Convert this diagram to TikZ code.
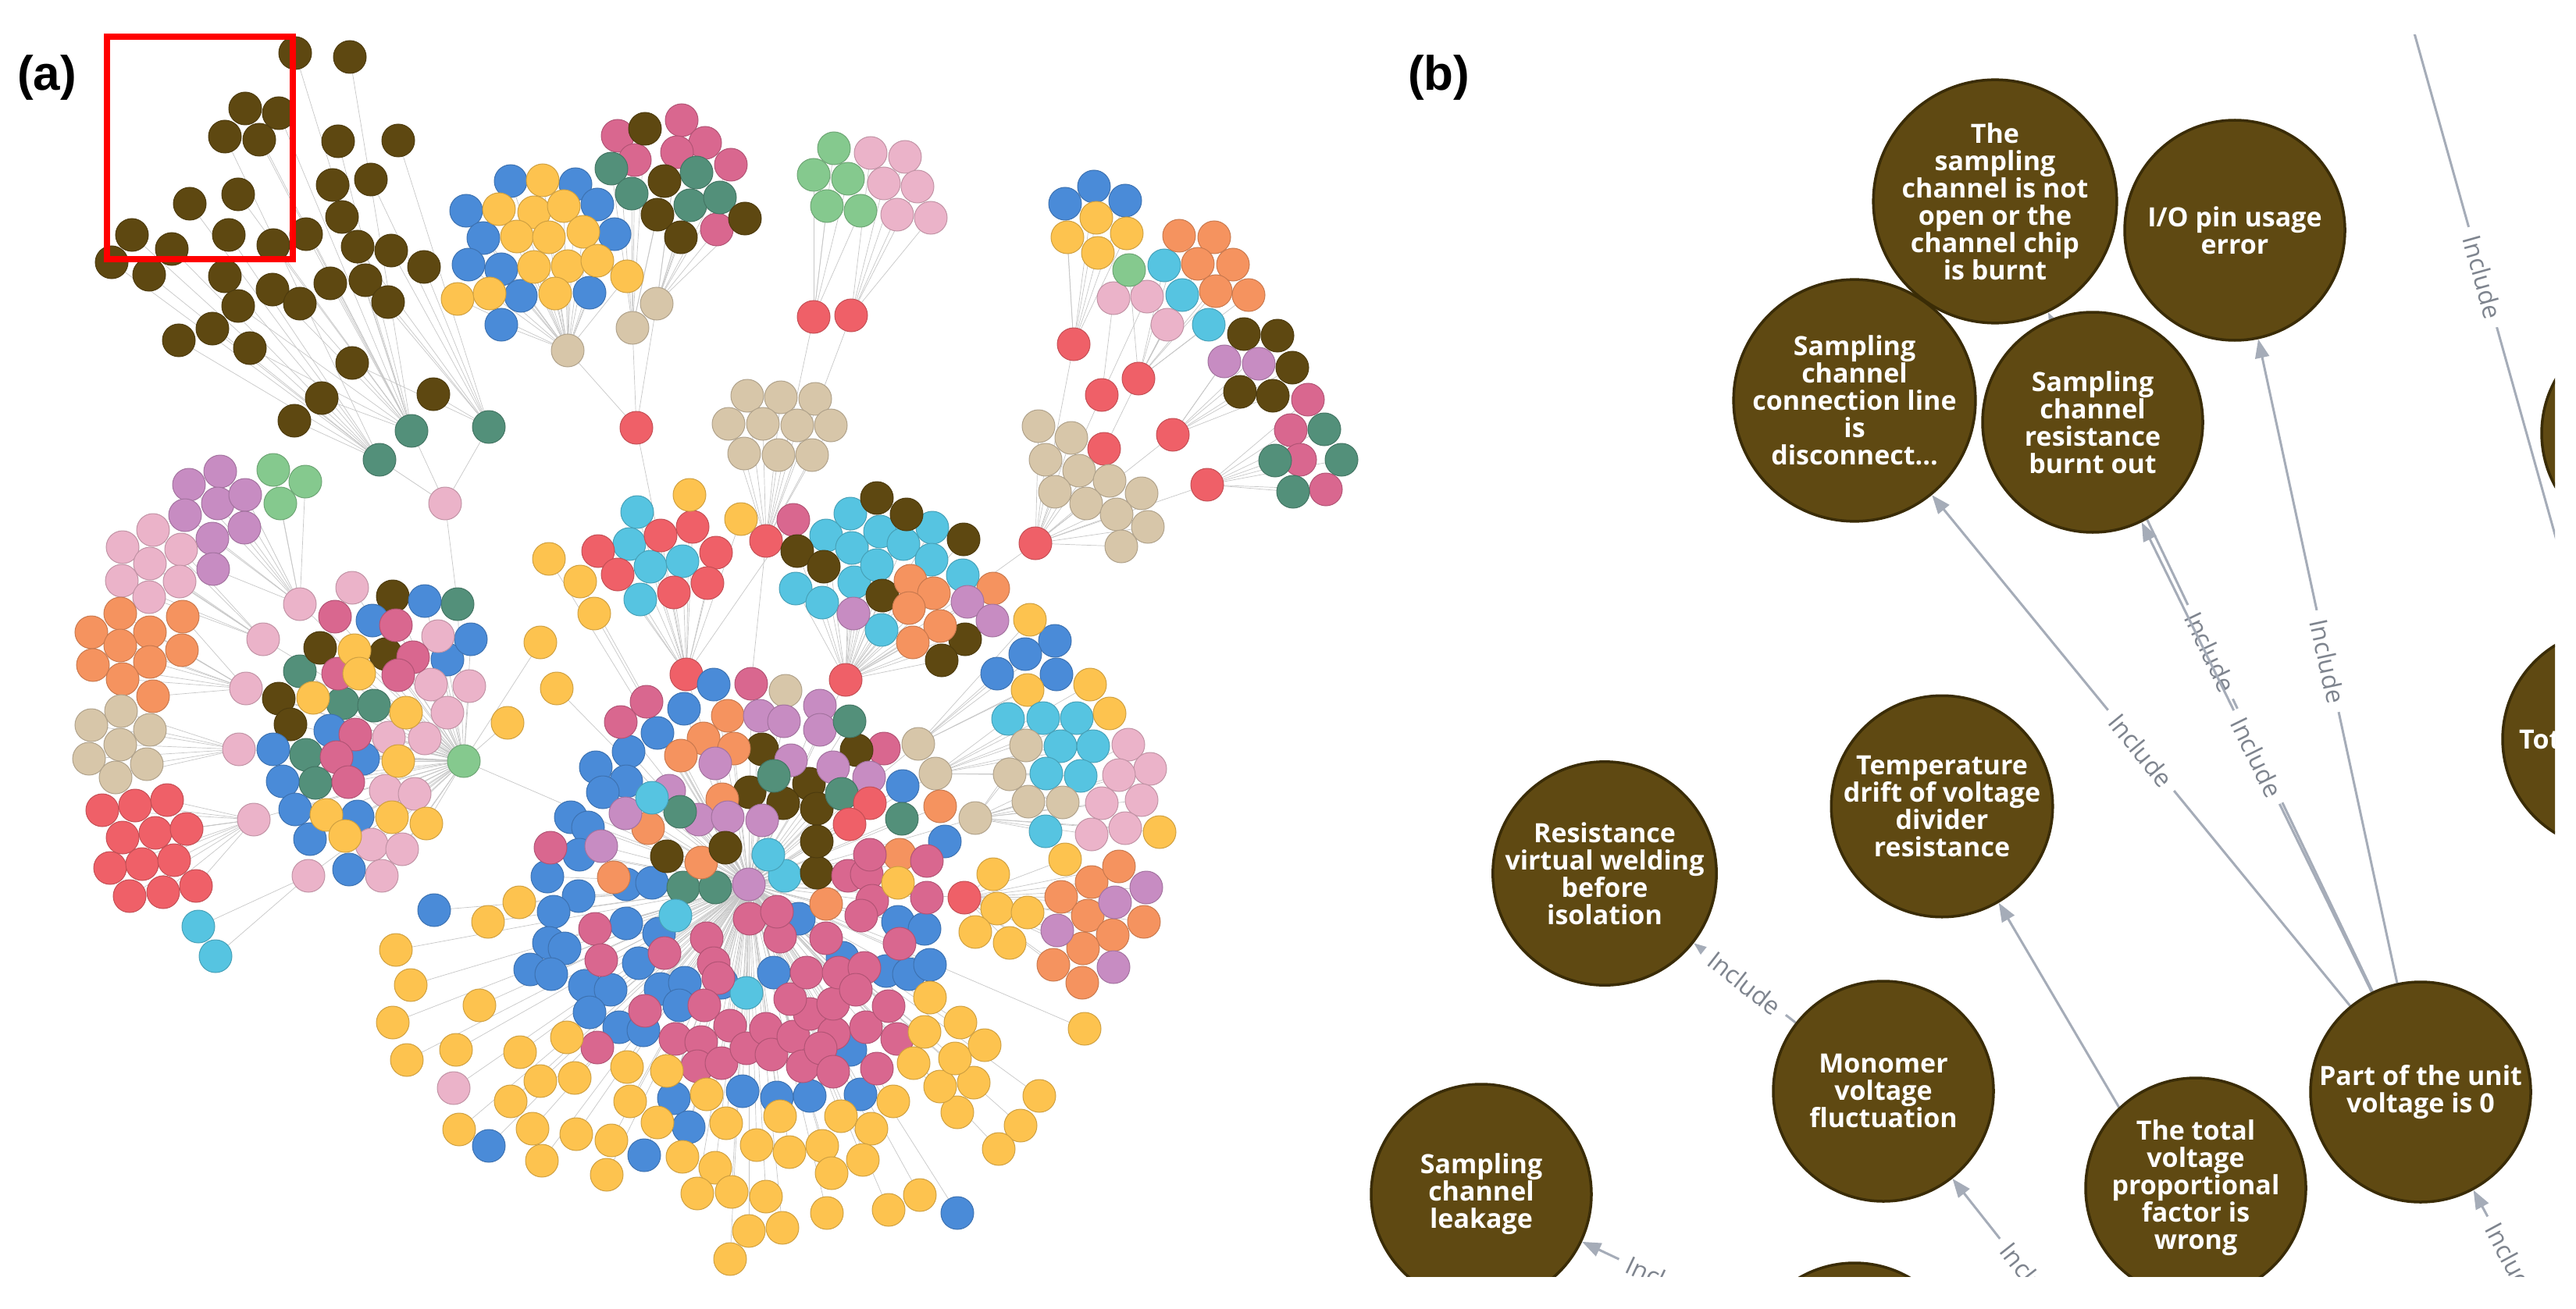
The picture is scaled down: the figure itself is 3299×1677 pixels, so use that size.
\documentclass[tikz,border=0pt]{standalone}
\usepackage{fontspec}
\setmainfont{Liberation Sans}
\newfontfamily\osfont{Open Sans}
\usetikzlibrary{arrows.meta}
\pgfdeclarelayer{bg}
\pgfsetlayers{bg,main}
\definecolor{cB}{HTML}{5E4811}
\definecolor{cU}{HTML}{4A8BD8}
\definecolor{cY}{HTML}{FDC34F}
\definecolor{cM}{HTML}{D9678F}
\definecolor{cP}{HTML}{EBB3C9}
\definecolor{cT}{HTML}{53907A}
\definecolor{cG}{HTML}{85C98E}
\definecolor{cR}{HTML}{EF6068}
\definecolor{cN}{HTML}{D7C6A9}
\definecolor{cC}{HTML}{56C4E1}
\definecolor{cO}{HTML}{F5935F}
\definecolor{cV}{HTML}{C78CC2}
\definecolor{cBb}{HTML}{5F4912}
\definecolor{cBd}{HTML}{3A2C06}
\definecolor{cE}{HTML}{A5ACB8}
\definecolor{cL}{HTML}{7E848E}
\tikzset{
 nd/.style={circle,minimum size=42pt,inner sep=0pt,fill=#1,draw=#1!82!black,line width=1pt},
 ghost/.style={circle,minimum size=42pt,inner sep=0pt},
 aedge/.style={draw=black!22,line width=0.7pt},
 bn/.style={circle,minimum size=282pt,inner sep=0pt,fill=cBb,draw=cBd,line width=3.5pt,text=white,align=center,font=\osfont\bfseries\fontsize{34}{35}\selectfont},
 bedge/.style={draw=cE,line width=3pt,-{Triangle[length=24pt,width=18pt]}},
 bline/.style={draw=cE,line width=3pt},
 blab/.style={sloped,fill=white,inner xsep=12pt,inner ysep=2pt,text=cL,font=\osfont\fontsize{32}{32}\selectfont},
 plab/.style={anchor=base west,inner sep=0pt,font=\bfseries\fontsize{62}{62}\selectfont},
}
\newcommand\mkedges[2]{\foreach \x/\y/\cc/\hh [count=\i] in #2 {\node[ghost] (#1\i) at (\x,\y) {};\draw[aedge] (\hh) -- (#1\i);}}
\newcommand\mknodes[2]{\foreach \x/\y/\cc/\hh [count=\i] in #2 {\node[nd=\cc] (#1\i) at (\x,\y) {};}}
% hubs: x/y/colour/name
\def\Lhub{527/552/cT/hT1,626/547/cT/hT2,486/589/cT/hT3,570/645/cP/hSF,586/774/cT/hRT,594/975/cG/hTR,727/449/cN/hN1,841/389/cN/hN2,810/420/cN/hN3,815/548/cR/hR1,1042/406/cR/hRg,1090/404/cR/hRp,981/693/cR/hRe,879/864/cR/hRa,1083/871/cR/hRc,1375/441/cR/hRcb,1411/506/cR/hRml,1458/485/cR/hRla,1502/557/cR/hRtb,1414/575/cR/hRco,1546/621/cR/hRsb,1326/696/cR/hRam,1176/953/cN/hNv,1198/991/cN/hNl,1249/1048/cN/hNc,384/774/cP/hPc,337/819/cP/hPo,315/882/cP/hPi,306/960/cP/hPf,325/1050/cP/hPa,395/1122/cP/hPe,959/1133/cV/hV,1235/1150/cR/hRg2,962/876/cM/hMx,1006/885/cN/hNf}
\def\Ltla{378/68/cB/hT1,448/73/cB/hT1,314/139/cB/hT1,357/145/cB/hT1,288/175/cB/hT3,332/179/cB/hT1,433/181/cB/hT1,510/180/cB/hT2,305/249/cB/hT1,243/261/cB/hT3,426/237/cB/hT1,475/230/cB/hT2,438/278/cB/hT1,169/301/cB/hT3,220/319/cB/hT3,293/301/cB/hT3,350/314/cB/hT1,392/300/cB/hT1,458/316/cB/hT2,501/321/cB/hT2,143/336/cB/hT3,191/352/cB/hT3,288/354/cB/hT3,349/371/cB/hT1,423/363/cB/hT1,468/359/cB/hT2,543/342/cB/hT2,305/392/cB/hT1,384/389/cB/hT1,497/387/cB/hT2,272/421/cB/hT3,229/436/cB/hT3,320/446/cB/hT1,451/465/cB/hT2,412/510/cB/hT1,555/505/cB/hT2,377/539/cB/hT3}
\def\Ltmb{654/232/cU/hN1,737/236/cU/hN1,597/270/cU/hN1,765/262/cU/hN1,619/305/cU/hN1,787/300/cU/hN1,600/339/cU/hN1,642/345/cU/hN1,667/379/cU/hN1,755/375/cU/hN1,642/416/cU/hN1,695/231/cY/hN1,639/268/cY/hN1,684/272/cY/hN1,722/264/cY/hN1,662/303/cY/hN1,703/304/cY/hN1,747/297/cY/hN1,684/342/cY/hN1,727/341/cY/hN1,765/334/cY/hN1,586/383/cY/hN1,627/376/cY/hN1,711/376/cY/hN1,803/354/cY/hN1}
\def\Ltcc{791/174/cM/hN3,813/205/cM/hN3,873/154/cM/hN2,903/183/cM/hN2,867/195/cM/hN2,936/211/cM/hN2,918/294/cM/hN2,783/216/cT/hN3,809/248/cT/hN3,892/221/cT/hN2,884/263/cT/hN2,922/253/cT/hN2,826/165/cB/hN3,851/232/cB/hN3,842/275/cB/hN3,872/304/cB/hN2,954/280/cB/hN2}
\def\Llgp{1068/190/cG/hRg,1042/224/cG/hRg,1086/229/cG/hRg,1059/264/cG/hRg,1102/270/cG/hRg,1115/196/cP/hRp,1159/201/cP/hRp,1132/235/cP/hRp,1175/239/cP/hRp,1149/275/cP/hRp,1192/279/cP/hRp}
\def\Ltnr{957/507/cN/hRe,1000/509/cN/hRe,1044/511/cN/hRe,933/543/cN/hRe,977/543/cN/hRe,1021/545/cN/hRe,1064/545/cN/hRe,953/581/cN/hRe,997/583/cN/hRe,1040/583/cN/hRe}
\def\Lano{816/656/cC/hRa,806/697/cC/hRa,833/726/cC/hRa,874/719/cC/hRa,820/768/cC/hRa,766/706/cR/hRa,846/686/cR/hRa,887/675/cR/hRa,917/708/cR/hRa,791/736/cR/hRa,863/759/cR/hRa,906/747/cR/hRa,883/634/cY/hRa,949/665/cY/hRa,1016/666/cM/hRa}
\def\Lcat{1089/658/cC/hRc,1058/686/cC/hRc,1091/702/cC/hRc,1019/754/cC/hRc,1094/746/cC/hRc,1053/772/cC/hRc,1127/681/cC/hRc,1157/697/cC/hRc,1194/676/cC/hRc,1123/724/cC/hRc,1193/717/cC/hRc,1233/737/cC/hRc,1129/807/cC/hRc,1021/706/cB/hRc,1055/726/cB/hRc,1123/638/cB/hRc,1161/659/cB/hRc,1234/691/cB/hRc,1130/763/cB/hRc,1236/819/cB/hRc,1206/846/cB/hRc,1166/744/cO/hRc,1196/760/cO/hRc,1164/779/cO/hRc,1204/802/cO/hRc,1169/823/cO/hRc,1272/754/cO/hRc,1093/786/cV/hRc,1239/771/cV/hRc,1271/795/cV/hRc}
\def\Lvol{1351/821/cU/hNv,1313/838/cU/hNv,1353/864/cU/hNv,1277/863/cU/hNv,1319/794/cY/hNv,1316/884/cY/hNv}
\def\Llif{1291/921/cC/hNl,1336/920/cC/hNl,1379/920/cC/hNl,1358/956/cC/hNl,1400/956/cC/hNl,1340/991/cC/hNl,1384/994/cC/hNl,1396/877/cY/hNl,1421/914/cY/hNl}
\def\Lcap{1314/955/cN/hNc,1293/992/cN/hNc,1317/1027/cN/hNc,1361/1028/cN/hNc,1445/954/cP/hNc,1473/985/cP/hNc,1433/993/cP/hNc,1462/1025/cP/hNc,1411/1029/cP/hNc,1441/1061/cP/hNc,1398/1069/cP/hNc,1339/1065/cC/hNc,1485/1066/cY/hNc}
\def\Lrca{1401/239/cU/hRcb,1364/261/cU/hRcb,1441/257/cU/hRcb,1404/279/cY/hRcb,1367/304/cY/hRcb,1443/299/cY/hRcb,1406/324/cY/hRcb,1426/382/cP/hRml,1469/380/cP/hRml}
\def\Lrla{1446/346/cG/hRla,1491/340/cC/hRla,1514/378/cC/hRla,1548/416/cC/hRla,1495/416/cP/hRla,1510/302/cO/hRla,1555/304/cO/hRla,1534/338/cO/hRla,1579/339/cO/hRla,1557/373/cO/hRla,1599/378/cO/hRla}
\def\Lrtb{1593/428/cB/hRtb,1636/430/cB/hRtb,1655/471/cB/hRtb,1588/502/cB/hRtb,1630/507/cB/hRtb,1568/463/cV/hRtb,1612/466/cV/hRtb,1675/512/cM/hRsb,1653/551/cM/hRsb,1665/589/cM/hRsb,1698/627/cM/hRsb,1696/550/cT/hRsb,1633/590/cT/hRsb,1718/589/cT/hRsb,1656/630/cT/hRsb}
\def\Lram{1330/546/cN/hRam,1372/561/cN/hRam,1339/589/cN/hRam,1382/603/cN/hRam,1351/630/cN/hRam,1421/616/cN/hRam,1462/632/cN/hRam,1391/645/cN/hRam,1430/659/cN/hRam,1470/675/cN/hRam,1436/700/cN/hRam}
\def\Llft{282/604/cV/hPc,242/621/cV/hPc,279/645/cV/hPc,314/634/cV/hPc,237/660/cV/hPc,313/676/cV/hPc,272/690/cV/hPc,273/729/cV/hPc,350/602/cG/hPc,391/617/cG/hPc,359/645/cG/hPc,196/679/cP/hPo,157/701/cP/hPo,232/704/cP/hPo,192/722/cP/hPo,156/744/cP/hPo,230/745/cP/hPo,191/765/cP/hPo,154/786/cO/hPi,117/810/cO/hPi,192/810/cO/hPi,154/827/cO/hPi,234/790/cO/hPi,233/833/cO/hPi,192/848/cO/hPi,119/852/cO/hPi,157/870/cO/hPi,196/892/cO/hPi,155/911/cN/hPf,117/929/cN/hPf,192/935/cN/hPf,154/954/cN/hPf,114/972/cN/hPf,188/979/cN/hPf,148/996/cN/hPf,131/1038/cR/hPa,173/1032/cR/hPa,214/1025/cR/hPa,157/1073/cR/hPa,199/1067/cR/hPa,239/1062/cR/hPa,141/1112/cR/hPa,182/1107/cR/hPa,223/1102/cR/hPa,166/1148/cR/hPa,209/1143/cR/hPa,251/1135/cR/hPa,254/1187/cC/hPe,276/1225/cC/hPe}
\def\Lclf{384/860/cT/hTR,439/901/cT/hTR,479/904/cT/hTR,392/967/cT/hTR,404/1003/cT/hTR,503/764/cB/hTR,410/830/cB/hTR,494/838/cB/hTR,357/895/cB/hTR,372/928/cB/hTR,477/795/cU/hTR,544/770/cU/hTR,573/845/cU/hTR,423/936/cU/hTR,350/960/cU/hTR,465/972/cU/hTR,362/1001/cU/hTR,378/1037/cU/hTR,458/1046/cU/hTR,397/1075/cU/hTR,447/1114/cU/hTR,603/819/cU/hTR,451/753/cP/hTR,561/815/cP/hTR,552/877/cP/hTR,573/913/cP/hTR,498/945/cP/hTR,544/946/cP/hTR,476/1082/cP/hTR,515/1088/cP/hTR,494/1013/cP/hTR,531/1017/cP/hTR,489/1122/cP/hTR,601/879/cP/hTR,429/790/cM/hTR,507/801/cM/hTR,529/842/cM/hTR,433/863/cM/hTR,510/865/cM/hTR,454/833/cY/hTR,460/863/cY/hTR,401/894/cY/hTR,520/913/cY/hTR,510/975/cY/hTR,418/1044/cY/hTR,502/1047/cY/hTR,546/1055/cY/hTR,442/1071/cY/hTR,455/941/cM/hTR,431/970/cM/hTR,446/1002/cM/hTR,692/823/cY/hTR,650/926/cY/hTR}
\def\Lcbg{703/716/cY/hV,743/745/cY/hV,761/786/cY/hV,713/882/cY/hV,914/877/cU/hV,876/908/cU/hV,842/939/cU/hV,805/963/cU/hV,763/983/cU/hV,802/1001/cU/hV,772/1015/cU/hV,731/1047/cU/hV,753/1060/cU/hV,1156/1007/cU/hV,828/899/cM/hV,795/925/cM/hV,1132/959/cM/hV,976/960/cB/hV,1097/961/cB/hV,960/1015/cB/hV,1036/1004/cB/hV,1003/1029/cB/hV,1046/1036/cB/hV,932/917/cO/hV,901/946/cO/hV,940/959/cO/hV,872/968/cO/hV,925/1024/cO/hV,830/1061/cO/hV,1204/1033/cO/hV,973/917/cV/hV,1004/924/cV/hV,1050/904/cV/hV,1050/935/cV/hV,1013/974/cV/hV,916/978/cV/hV,1067/983/cV/hV,857/1013/cV/hV,895/1050/cV/hV,932/1047/cV/hV,976/1051/cV/hV,801/1042/cV/hV,1113/996/cV/hV,1088/924/cT/hV,1078/1017/cT/hV,991/994/cT/hV,871/1040/cT/hV,1155/1049/cT/hV,835/1022/cC/hV,1114/1029/cR/hV,1088/1056/cR/hV}
\def\Lbot{556/1166/cU/hV,701/1123/cU/hV,741/1148/cU/hV,709/1168/cU/hV,703/1208/cU/hV,723/1215/cU/hV,679/1242/cU/hV,706/1248/cU/hV,749/1263/cU/hV,782/1268/cU/hV,755/1297/cU/hV,793/1316/cU/hV,824/1320/cU/hV,802/1183/cU/hV,802/1133/cU/hV,835/1131/cU/hV,818/1234/cU/hV,846/1267/cU/hV,877/1259/cU/hV,870/1288/cU/hV,844/1196/cU/hV,991/1246/cU/hV,1023/1177/cU/hV,1079/1227/cU/hV,1089/1345/cU/hV,1135/1244/cU/hV,1164/1248/cU/hV,1191/1236/cU/hV,1150/1181/cU/hV,1184/1190/cU/hV,863/1407/cU/hV,951/1398/cU/hV,995/1406/cU/hV,1037/1404/cU/hV,1102/1402/cU/hV,882/1444/cU/hV,825/1480/cU/hV,626/1468/cU/hV,1226/1554/cU/hV,742/1095/cU/hV,924/1259/cU/hV,1210/1078/cU/hV,875/1137/cT/hV,916/1137/cT/hV,770/1084/cV/hV,786/1124/cO/hV,898/1105/cO/hV,1058/1158/cO/hV,1152/1095/cO/hV,865/1173/cC/hV,1005/1122/cC/hV,984/1095/cC/hV,956/1272/cC/hV,854/1097/cB/hV,929/1086/cB/hV,1046/1118/cB/hV,1046/1078/cB/hV,581/1394/cP/hV}
\def\Lmag{705/1086/cM/hV,762/1190/cM/hV,770/1230/cM/hV,851/1221/cM/hV,905/1202/cM/hV,914/1234/cM/hV,920/1253/cM/hV,902/1288/cM/hV,826/1295/cM/hV,865/1331/cM/hV,898/1335/cM/hV,935/1314/cM/hV,893/1366/cM/hV,924/1362/cM/hV,956/1343/cM/hV,981/1318/cM/hV,988/1351/cM/hV,1016/1328/cM/hV,1037/1299/cM/hV,1012/1280/cM/hV,1028/1366/cM/hV,1068/1324/cM/hV,1051/1343/cM/hV,1067/1373/cM/hV,1067/1286/cM/hV,1033/1246/cM/hV,1074/1246/cM/hV,1107/1240/cM/hV,1096/1268/cM/hV,1109/1316/cM/hV,1138/1289/cM/hV,1149/1331/cM/hV,1123/1369/cM/hV,765/1342/cM/hV,999/1200/cM/hV,1058/1202/cM/hV,960/1177/cM/hV,995/1168/cM/hV,1086/1122/cM/hV,1110/1120/cM/hV,1117/1154/cM/hV,1103/1173/cM/hV,1152/1209/cM/hV,1187/1150/cM/hV,1187/1103/cM/hV,1114/1095/cM/hV}
\def\Lyel{665/1156/cY/hV,625/1181/cY/hV,507/1217/cY/hV,526/1262/cY/hV,503/1310/cY/hV,614/1288/cY/hV,521/1358/cY/hV,584/1345/cY/hV,666/1348/cY/hV,726/1329/cY/hV,692/1385/cY/hV,736/1381/cY/hV,803/1367/cY/hV,854/1372/cY/hV,905/1402/cY/hV,654/1411/cY/hV,807/1411/cY/hV,842/1438/cY/hV,588/1447/cY/hV,682/1446/cY/hV,738/1453/cY/hV,783/1461/cY/hV,694/1487/cY/hV,874/1482/cY/hV,916/1496/cY/hV,930/1439/cY/hV,969/1467/cY/hV,999/1430/cY/hV,1011/1476/cY/hV,1053/1468/cY/hV,1077/1430/cY/hV,1116/1446/cY/hV,1144/1411/cY/hV,1105/1486/cY/hV,1065/1503/cY/hV,777/1505/cY/hV,893/1529/cY/hV,937/1527/cY/hV,981/1533/cY/hV,959/1577/cY/hV,1002/1573/cY/hV,935/1613/cY/hV,1059/1554/cY/hV,1138/1550/cY/hV,1178/1531/cY/hV,1307/1442/cY/hV,1279/1472/cY/hV,1226/1425/cY/hV,1247/1387/cY/hV,1204/1392/cY/hV,1223/1356/cY/hV,1170/1362/cY/hV,1184/1322/cY/hV,1261/1339/cY/hV,1230/1310/cY/hV,1191/1278/cY/hV,1331/1404/cY/hV,1389/1318/cY/hV,1150/1131/cY/hV}
\def\Lrbg{1272/1120/cY/hRg2,1277/1164/cY/hRg2,1316/1169/cY/hRg2,1249/1194/cY/hRg2,1293/1208/cY/hRg2,1364/1101/cY/hRg2,1359/1149/cO/hRg2,1398/1130/cO/hRg2,1433/1110/cO/hRg2,1393/1173/cO/hRg2,1425/1198/cO/hRg2,1465/1181/cO/hRg2,1387/1215/cO/hRg2,1349/1236/cO/hRg2,1386/1259/cO/hRg2,1354/1192/cV/hRg2,1428/1156/cV/hRg2,1468/1137/cV/hRg2,1426/1239/cV/hRg2}
\begin{document}
\begin{tikzpicture}[x=1pt,y=-1pt]
\useasboundingbox (0,0) rectangle (3299,1677);
% ---------- panel (a): connectors first (shape-only nodes) ----------
\foreach \x/\y/\cc/\nn in \Lhub {\node[ghost] (\nn) at (\x,\y) {};}
\foreach \a/\b in {hT1/hSF,hT2/hSF,hT3/hSF,hSF/hRT,hRT/hTR,hN1/hR1,hN2/hR1,hN3/hR1,hRg/hRe,hRp/hRe,hRe/hMx,hRcb/hRam,hRml/hRam,hRtb/hRam,hRsb/hRam,hRco/hRam,hRla/hRco,hRam/hRc,hRa/hV,hRc/hV,hNv/hV,hNl/hV,hNc/hV,hMx/hV,hNf/hV,hPc/hTR,hPo/hTR,hPi/hTR,hPf/hTR,hPa/hTR,hPe/hTR,hTR/hV,hRg2/hV,hR1/hRa}
  {\draw[aedge] (\a) -- (\b);}
\mkedges{tla}{\Ltla}\mkedges{tmb}{\Ltmb}\mkedges{tcc}{\Ltcc}\mkedges{lgp}{\Llgp}
\mkedges{tnr}{\Ltnr}\mkedges{ano}{\Lano}\mkedges{cat}{\Lcat}\mkedges{vol}{\Lvol}
\mkedges{lif}{\Llif}\mkedges{cap}{\Lcap}\mkedges{rca}{\Lrca}\mkedges{rla}{\Lrla}
\mkedges{rtb}{\Lrtb}\mkedges{ram}{\Lram}\mkedges{lft}{\Llft}\mkedges{clf}{\Lclf}
\mkedges{cbg}{\Lcbg}\mkedges{bot}{\Lbot}\mkedges{mag}{\Lmag}\mkedges{yel}{\Lyel}
\mkedges{rbg}{\Lrbg}
% ---------- panel (a): nodes ----------
\foreach \x/\y/\cc/\nn in \Lhub {\node[nd=\cc] (\nn) at (\x,\y) {};}
\mknodes{tla}{\Ltla}\mknodes{tmb}{\Ltmb}\mknodes{tcc}{\Ltcc}\mknodes{lgp}{\Llgp}
\mknodes{tnr}{\Ltnr}\mknodes{ano}{\Lano}\mknodes{cat}{\Lcat}\mknodes{vol}{\Lvol}
\mknodes{lif}{\Llif}\mknodes{cap}{\Lcap}\mknodes{rca}{\Lrca}\mknodes{rla}{\Lrla}
\mknodes{rtb}{\Lrtb}\mknodes{ram}{\Lram}\mknodes{lft}{\Llft}\mknodes{clf}{\Lclf}
\mknodes{cbg}{\Lcbg}\mknodes{bot}{\Lbot}\mknodes{mag}{\Lmag}\mknodes{yel}{\Lyel}
\mknodes{rbg}{\Lrbg}
% red frame and panel labels
\draw[red,line width=8pt] (137,47) rectangle (375,332);
\node[plab] (la) at (22,116) {(a)};
\node[plab] (lb) at (1803,116) {(b)};
% ---------- panel (b) ----------
\begin{scope}
\clip (1740,45) rectangle (3272,1635);
\node[bn] (b1) at (2555,258) {The\\sampling\\channel is not\\open or the\\channel chip\\is burnt};
\node[bn] (b2) at (2862,295) {I/O pin usage\\error};
\node[bn] (b3) at (2375,513) {Sampling\\channel\\connection line\\is\\disconnect...};
\node[bn] (b4) at (2680,541) {Sampling\\channel\\resistance\\burnt out};
\node[bn] (b5) at (2055,1119) {Resistance\\virtual welding\\before\\isolation};
\node[bn] (b6) at (2487,1033) {Temperature\\drift of voltage\\divider\\resistance};
\node[bn] (b7) at (2412,1398) {Monomer\\voltage\\fluctuation};
\node[bn] (b8) at (1897,1530) {Sampling\\channel\\leakage};
\node[bn] (b9) at (2812,1522) {The total\\voltage\\proportional\\factor is\\wrong};
\node[bn] (b10) at (3100,1399) {Part of the unit\\voltage is 0};
\node[bn] (b11) at (2375,1759) {};
\node[bn] (b12) at (3396,555) {};
\node[bn] (b13) at (3346,947) {};
\node[anchor=west,inner sep=0pt,text=white,font=\osfont\bfseries\fontsize{34}{35}\selectfont] (b13t) at (3226,947) {Total};
\end{scope}
\coordinate (lt1) at (3080,0);
\coordinate (lt2) at (3290,749);
\coordinate (srcM) at (2784,1869);
\coordinate (srcL) at (2440,1786);
\coordinate (srcP) at (3384,1927);
\coordinate (srcT) at (2938,1800);
\begin{pgfonlayer}{bg}
\fill[white] (0,0) rectangle (3299,1677);
\begin{scope}
\clip (1740,45) rectangle (3272,1635);
\draw[bedge] (b10) -- node[blab] {Include} (b3);
\draw[bedge] (b10) -- node[blab] {Include} (b1);
\draw[bedge] (b10) -- node[blab] {Include} (b4);
\draw[bedge] (b10) -- node[blab] {Include} (b2);
\draw[bedge] (b7) -- node[blab] {Include} (b5);
\draw[bedge] (srcT) -- (b6);
\draw[bedge] (srcM) -- node[blab,pos=0.64] {Include} (b7);
\draw[bedge] (srcL) -- node[blab,pos=0.74] {Include} (b8);
\draw[bedge] (srcP) -- node[blab,pos=0.77] {Include} (b10);
\draw[bline] (lt1) -- node[blab,pos=0.474] {Include} (lt2);
\end{scope}
\end{pgfonlayer}
\end{tikzpicture}
\end{document}
